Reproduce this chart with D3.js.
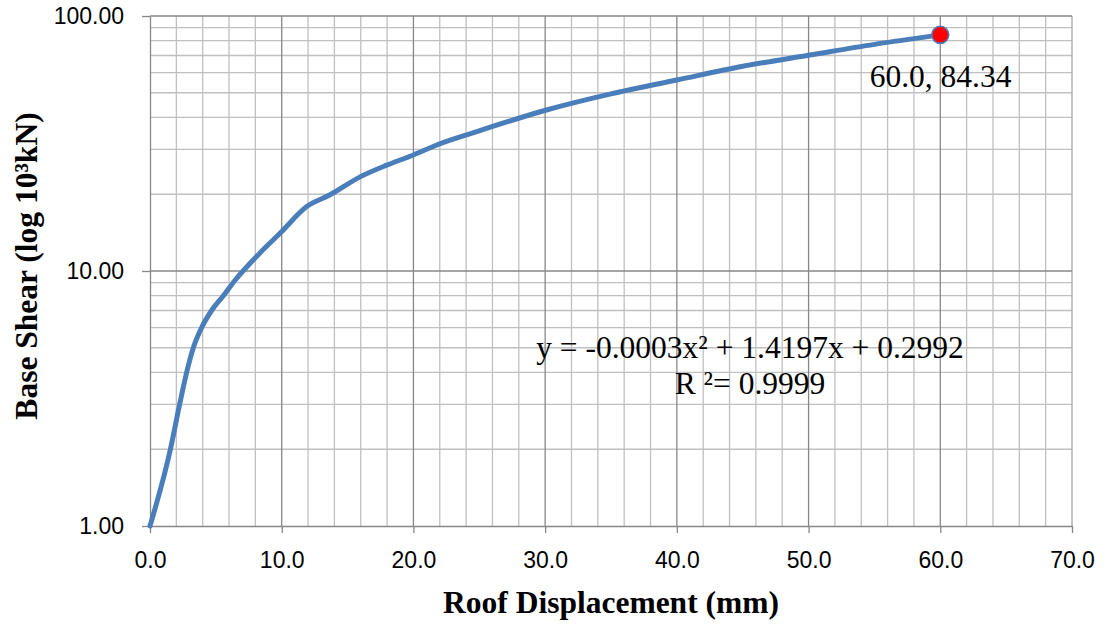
<!DOCTYPE html>
<html>
<head>
<meta charset="utf-8">
<script src="https://cdn.jsdelivr.net/npm/d3@7"></script>
<style>
  html, body { margin: 0; padding: 0; background: #ffffff; }
  svg { display: block; }
</style>
</head>
<body>
<svg id="chart" width="1109" height="626"></svg>
<script>
// Pushover curve: roof displacement (mm) vs base shear (10^3 kN)
const displacement = [0, 1.55, 2.25, 2.78, 3.29, 3.92, 4.68, 5.57, 6.46, 8.3, 9.87, 11.9, 13.67, 15.95, 17.97, 20.0, 21.77, 24.8, 30.1, 35.0, 40.0, 45.0, 50.1, 55.0, 60.0];
const baseShear    = [1.0, 2.0, 3.0, 4.0, 5.0, 6.0, 7.0, 8.0, 9.2, 11.7, 14.05, 17.9, 19.9, 23.4, 26.0, 28.5, 31.2, 35.2, 42.8, 49.5, 56.1, 63.5, 70.3, 77.4, 84.34];

const xTicks = [0, 10, 20, 30, 40, 50, 60, 70];
const yTicks = [1, 10, 100];
const lastPoint = { x: 60.0, y: 84.34 };
const equationText = "y = -0.0003x² + 1.4197x + 0.2992";
const r2Text = "R ²= 0.9999";

const svg = d3.select("#chart");
const plot = { left: 150, right: 1072, top: 16, bottom: 526 };

const x = d3.scaleLinear().domain([0, 70]).range([plot.left, plot.right]);
const y = d3.scaleLog().domain([1, 100]).range([plot.bottom, plot.top]);

const minorColor = "#c0c0c0";
const majorColor = "#878787";

// minor vertical grid every 2 mm
const g = svg.append("g");
d3.range(0, 71, 2).filter(v => v % 10 !== 0).forEach(v => {
  g.append("line").attr("x1", x(v)).attr("x2", x(v))
    .attr("y1", plot.top).attr("y2", plot.bottom)
    .attr("stroke", minorColor).attr("stroke-width", 1.3);
});
// minor horizontal grid at 2..9 of each decade
[1, 10].forEach(dec => {
  d3.range(2, 10).forEach(m => {
    const v = dec * m;
    g.append("line").attr("x1", plot.left).attr("x2", plot.right)
      .attr("y1", y(v)).attr("y2", y(v))
      .attr("stroke", minorColor).attr("stroke-width", 1.3);
  });
});
// right plot border
g.append("line").attr("x1", x(70)).attr("x2", x(70))
  .attr("y1", plot.top).attr("y2", plot.bottom)
  .attr("stroke", "#a6a6a6").attr("stroke-width", 1.3);
// major vertical grid
xTicks.filter(v => v > 0 && v < 70).forEach(v => {
  g.append("line").attr("x1", x(v)).attr("x2", x(v))
    .attr("y1", plot.top).attr("y2", plot.bottom)
    .attr("stroke", majorColor).attr("stroke-width", 1.3);
});
// major horizontal grid (decades)
yTicks.filter(v => v > 1).forEach(v => {
  g.append("line").attr("x1", plot.left).attr("x2", plot.right)
    .attr("y1", y(v)).attr("y2", y(v))
    .attr("stroke", majorColor).attr("stroke-width", 1.3);
});

// axes
const xAxis = d3.axisBottom(x).tickValues(xTicks).tickFormat(d3.format(".1f"))
  .tickSizeInner(7).tickSizeOuter(0).tickPadding(19);
const yAxis = d3.axisLeft(y).tickValues(yTicks).tickFormat(d3.format(".2f"))
  .tickSizeInner(8).tickSizeOuter(0).tickPadding(18);

const gx = svg.append("g").attr("transform", `translate(0,${plot.bottom})`).call(xAxis);
const gy = svg.append("g").attr("transform", `translate(${plot.left},0)`).call(yAxis);
[gx, gy].forEach(a => {
  a.selectAll("path, line").attr("stroke", majorColor).attr("stroke-width", 1.3);
  a.selectAll("text").attr("fill", "#000")
    .style("font-family", "'Liberation Sans', Arial, sans-serif")
    .style("font-size", "23px");
});

// data curve
const pts = displacement.map((d, i) => [d, baseShear[i]]);
const line = d3.line().x(d => x(d[0])).y(d => y(d[1])).curve(d3.curveMonotoneX);
svg.append("path").datum(pts).attr("d", line)
  .attr("fill", "none").attr("stroke", "#4a7ebb").attr("stroke-width", 5)
  .attr("stroke-linejoin", "round").attr("stroke-linecap", "round");

// highlighted final point
svg.append("circle").attr("cx", x(lastPoint.x)).attr("cy", y(lastPoint.y)).attr("r", 8.5)
  .attr("fill", "#ff0000").attr("stroke", "#4a7ebb").attr("stroke-width", 1.5);

const serif = "'Liberation Serif', 'Times New Roman', serif";
svg.append("text").attr("x", 940.5).attr("y", 87).attr("text-anchor", "middle")
  .style("font-family", serif).style("font-size", "31.5px")
  .text(`${d3.format(".1f")(lastPoint.x)}, ${d3.format(".2f")(lastPoint.y)}`);

// trendline equation
svg.append("text").attr("x", 750).attr("y", 358).attr("text-anchor", "middle")
  .style("font-family", serif).style("font-size", "31.5px").text(equationText);
svg.append("text").attr("x", 750).attr("y", 394).attr("text-anchor", "middle")
  .style("font-family", serif).style("font-size", "31.5px").text(r2Text);

// axis titles
svg.append("text").attr("x", 611).attr("y", 613).attr("text-anchor", "middle")
  .style("font-family", serif).style("font-size", "31.5px").style("font-weight", "bold")
  .text("Roof Displacement (mm)");
svg.append("text").attr("transform", "translate(37,266) rotate(-90)").attr("text-anchor", "middle")
  .style("font-family", serif).style("font-size", "31.5px").style("font-weight", "bold")
  .text("Base Shear (log 10³kN)");
</script>
</body>
</html>
